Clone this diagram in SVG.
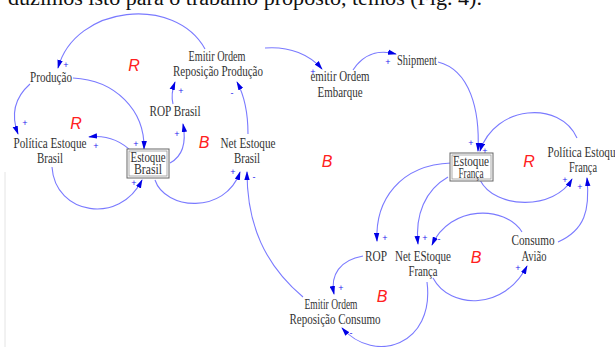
<svg xmlns="http://www.w3.org/2000/svg" width="615" height="347" viewBox="0 0 615 347">
<defs>
<marker id="ah" viewBox="0 0 10 6" refX="9" refY="3" markerWidth="9" markerHeight="6" markerUnits="userSpaceOnUse" orient="auto">
<path d="M0,0 L10,3 L0,6 z" fill="#0000e6"/>
</marker>
<style>
.n{font-family:"Liberation Serif","Times New Roman",serif;font-size:14px;fill:#333;text-anchor:middle}
.h{font-family:"Liberation Serif","Times New Roman",serif;font-size:20px;fill:#111}
.l{font-family:"Liberation Sans",Arial,sans-serif;font-size:16px;font-style:italic;fill:#ff2020;text-anchor:middle}
.s{font-family:"Liberation Sans",Arial,sans-serif;font-size:9px;fill:#2222ee;text-anchor:middle}
.c{fill:none;stroke:#7a7aff;stroke-width:1.1;marker-end:url(#ah)}
.b1{fill:#fff;stroke:#666;stroke-width:1}
.b2{fill:none;stroke:#999;stroke-width:0.8}
</style>
</defs>
<rect width="615" height="347" fill="#fff"/>
<text class="h" x="482" y="5" text-anchor="end" textLength="474" lengthAdjust="spacingAndGlyphs">duzimos isto para o trabalho proposto, temos (Fig. 4).</text>
<line x1="5" y1="172" x2="5" y2="347" stroke="#e4e4e4" stroke-width="1"/>

<g id="connectors">
<path class="c" d="M205,49 C175,-5 75,5 58,68"/>
<path class="c" d="M73,78 C115,80 145,110 144,149"/>
<path class="c" d="M30,84 C12,100 12,118 18,134"/>
<path class="c" d="M132,152 C120,140 105,135 89,137"/>
<path class="c" d="M52,167 C55,215 120,225 142,180"/>
<path class="c" d="M170,163 C185,155 186,140 183,124"/>
<path class="c" d="M173,104 C171,96 172,90 175,82"/>
<path class="c" d="M248,134 C248,110 244,95 237,82"/>
<path class="c" d="M155,180 C165,210 225,215 240,172"/>
<path class="c" d="M303,297 C265,265 247,225 247,172"/>
<path class="c" d="M265,48 C290,46 310,55 322,69"/>
<path class="c" d="M353,70 C365,52 380,50 396,54"/>
<path class="c" d="M438,62 C470,70 480,110 478,151"/>
<path class="c" d="M577,138 C560,100 495,105 480,151"/>
<path class="c" d="M451,163 C400,165 375,200 377,241"/>
<path class="c" d="M448,177 C425,190 415,215 418,244"/>
<path class="c" d="M522,232 C505,205 450,205 432,245"/>
<path class="c" d="M433,278 C450,310 505,310 527,266"/>
<path class="c" d="M558,242 C585,230 590,210 587,178"/>
<path class="c" d="M480,180 C495,210 555,210 572,179"/>
<path class="c" d="M363,256 C340,260 330,275 334,294"/>
<path class="c" d="M427,282 C435,345 375,365 342,328"/>
<g id="polarities">
<text class="s" x="66" y="68">+</text>
<text class="s" x="136" y="147">+</text>
<text class="s" x="25" y="126">+</text>
<text class="s" x="96" y="149">+</text>
<text class="s" x="134" y="186">+</text>
<text class="s" x="177" y="137">+</text>
<text class="s" x="181" y="94">+</text>
<text class="s" x="232" y="96">-</text>
<text class="s" x="233" y="175">+</text>
<text class="s" x="254" y="180">-</text>
<text class="s" x="313" y="75">+</text>
<text class="s" x="388" y="65">+</text>
<text class="s" x="471" y="146">+</text>
<text class="s" x="485" y="154">+</text>
<text class="s" x="385" y="241">+</text>
<text class="s" x="425" y="241">+</text>
<text class="s" x="439" y="242">-</text>
<text class="s" x="518" y="271">+</text>
<text class="s" x="580" y="190">+</text>
<text class="s" x="565" y="183">+</text>
<text class="s" x="341" y="291">+</text>
<text class="s" x="351" y="336">-</text>
</g>
</g>

<g id="loops">
<text class="l" x="134" y="71">R</text>
<text class="l" x="76" y="129">R</text>
<text class="l" x="204" y="148">B</text>
<text class="l" x="327" y="167">B</text>
<text class="l" x="529" y="167">R</text>
<text class="l" x="476" y="263">B</text>
<text class="l" x="382" y="302">B</text>
</g>

<g id="producao"><text class="n" x="51" y="82" textLength="42" lengthAdjust="spacingAndGlyphs">Produção</text></g>
<g id="politica-brasil">
<text class="n" x="50" y="148" textLength="73" lengthAdjust="spacingAndGlyphs">Política Estoque</text>
<text class="n" x="50" y="163" textLength="26" lengthAdjust="spacingAndGlyphs">Brasil</text>
</g>
<g id="estoque-brasil">
<rect class="b1" x="127" y="149" width="42" height="29"/>
<rect class="b2" x="129" y="151" width="38" height="25"/>
<text class="n" x="148" y="162" textLength="35" lengthAdjust="spacingAndGlyphs">Estoque</text>
<text class="n" x="148" y="174" textLength="28" lengthAdjust="spacingAndGlyphs">Brasil</text>
</g>
<g id="rop-brasil"><text class="n" x="175" y="116" textLength="51" lengthAdjust="spacingAndGlyphs">ROP Brasil</text></g>
<g id="emitir-producao">
<text class="n" x="217" y="61" textLength="57" lengthAdjust="spacingAndGlyphs">Emitir Ordem</text>
<text class="n" x="218" y="76" textLength="90" lengthAdjust="spacingAndGlyphs">Reposição Produção</text>
</g>
<g id="net-brasil">
<text class="n" x="248" y="148" textLength="55" lengthAdjust="spacingAndGlyphs">Net Estoque</text>
<text class="n" x="247" y="163" textLength="26" lengthAdjust="spacingAndGlyphs">Brasil</text>
</g>
<g id="emitir-embarque">
<text class="n" x="340" y="81" textLength="59" lengthAdjust="spacingAndGlyphs">emitir Ordem</text>
<text class="n" x="340" y="97" textLength="45" lengthAdjust="spacingAndGlyphs">Embarque</text>
</g>
<g id="shipment"><text class="n" x="417" y="65" textLength="40" lengthAdjust="spacingAndGlyphs">Shipment</text></g>
<g id="estoque-franca">
<rect class="b1" x="450" y="153" width="43" height="28"/>
<rect class="b2" x="452" y="155" width="39" height="24"/>
<text class="n" x="471" y="166" textLength="36" lengthAdjust="spacingAndGlyphs">Estoque</text>
<text class="n" x="471" y="178" textLength="25" lengthAdjust="spacingAndGlyphs">França</text>
</g>
<g id="politica-franca">
<text class="n" x="584" y="157" textLength="73" lengthAdjust="spacingAndGlyphs">Política Estoque</text>
<text class="n" x="583" y="172" textLength="28" lengthAdjust="spacingAndGlyphs">França</text>
</g>
<g id="rop"><text class="n" x="376" y="261" textLength="22" lengthAdjust="spacingAndGlyphs">ROP</text></g>
<g id="net-franca">
<text class="n" x="423" y="261" textLength="56" lengthAdjust="spacingAndGlyphs">Net EStoque</text>
<text class="n" x="423" y="276" textLength="29" lengthAdjust="spacingAndGlyphs">França</text>
</g>
<g id="consumo-aviao">
<text class="n" x="533" y="245" textLength="43" lengthAdjust="spacingAndGlyphs">Consumo</text>
<text class="n" x="534" y="261" textLength="25" lengthAdjust="spacingAndGlyphs">Avião</text>
</g>
<g id="emitir-consumo">
<text class="n" x="331" y="309" textLength="53" lengthAdjust="spacingAndGlyphs">Emitir Ordem</text>
<text class="n" x="335" y="324" textLength="91" lengthAdjust="spacingAndGlyphs">Reposição Consumo</text>
</g>
</svg>
